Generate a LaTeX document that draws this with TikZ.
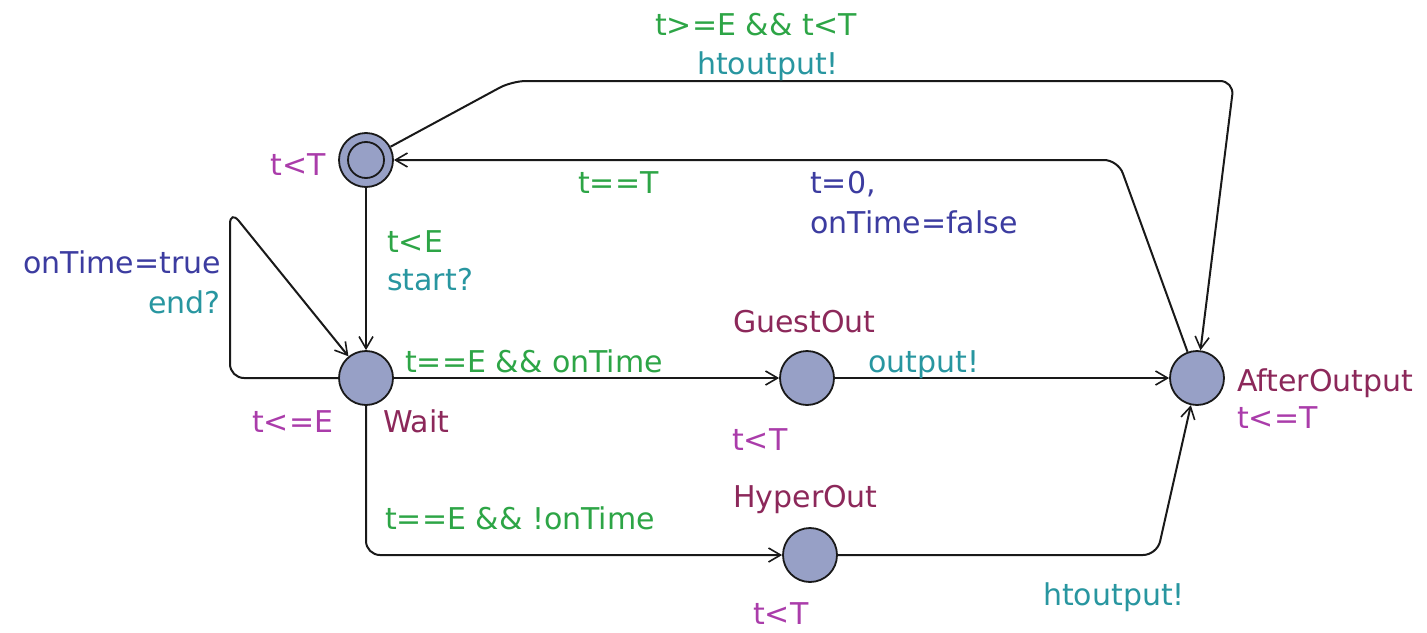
\documentclass[tikz,border=0pt]{standalone}
\usepackage{fontspec}
\setmainfont{DejaVu Sans}
\usetikzlibrary{arrows.meta}
\definecolor{locfill}{RGB}{151,160,198}
\definecolor{namecol}{RGB}{140,40,90}
\definecolor{invcol}{RGB}{170,60,170}
\definecolor{guardcol}{RGB}{45,165,70}
\definecolor{synccol}{RGB}{40,150,160}
\definecolor{assigncol}{RGB}{60,60,160}
\begin{document}
\begin{tikzpicture}[x=1pt,y=-1pt,
  loc/.style={circle,draw=black!90,fill=locfill,line width=1.8pt,minimum size=54pt,inner sep=0pt},
  loccore/.style={circle,draw=black!90,fill=locfill,line width=1.8pt,minimum size=36pt,inner sep=0pt},
  edge/.style={draw=black!90,line width=2pt,rounded corners=14pt,
    -{Straight Barb[length=12pt,width=14pt,line width=1.6pt]}},
  lbl/.style={inner sep=0pt,font=\fontsize{30}{36}\selectfont},
  lblname/.style={lbl,text=namecol},
  lblinv/.style={lbl,text=invcol},
  lblguard/.style={lbl,text=guardcol},
  lblsync/.style={lbl,text=synccol},
  lblassign/.style={lbl,text=assigncol}]
\useasboundingbox (0,0) rectangle (1427,632);

% locations
\node[loc] (init) at (366,160) {};
\node[loccore] (initcore) at (366,160) {};
\node[loc] (wait) at (366,378) {};
\node[loc] (guest) at (807,378) {};
\node[loc] (hyper) at (810,555) {};
\node[loc] (after) at (1197,378) {};

% location names and invariants
\node[lblinv,anchor=base east] (invinit) at (326,175) {t<T};
\node[lblname,anchor=base west] (nwait) at (383,432) {Wait};
\node[lblinv,anchor=base west] (invwait) at (252,432) {t<=E};
\node[lblname,anchor=base west] (nguest) at (733,332) {GuestOut};
\node[lblinv,anchor=base west] (invguest) at (732,450) {t<T};
\node[lblname,anchor=base west] (nhyper) at (733,507) {HyperOut};
\node[lblinv,anchor=base west] (invhyper) at (753,624) {t<T};
\node[lblname,anchor=base west] (nafter) at (1237,391) {AfterOutput};
\node[lblinv,anchor=base west] (invafter) at (1237,428) {t<=T};

% edges
\draw[edge] (init) -- (wait);
\draw[edge] (wait) -- (230,378) -- (230,210) -- (wait);
\draw[edge] (wait) -- (guest);
\draw[edge] (wait) -- (366,555) -- (hyper);
\draw[edge] (guest) -- (after);
\draw[edge] (hyper) -- (1157,555) -- (after);
\draw[edge] (after) -- (1118,160) -- (init);
\draw[edge] (init) -- (512,81) -- (1234,81) -- (after);

% edge labels
\node[lblguard,anchor=base west] (g1) at (387,252) {t<E};
\node[lblsync,anchor=base west] (s1) at (387,290) {start?};
\node[lblassign,anchor=base east] (a2) at (221,273) {onTime=true};
\node[lblsync,anchor=base east] (s2) at (221,313) {end?};
\node[lblguard,anchor=base west] (g3) at (405,372) {t==E \&\& onTime};
\node[lblguard,anchor=base west] (g4) at (385,529) {t==E \&\& !onTime};
\node[lblsync,anchor=base west] (s5) at (868,372) {output!};
\node[lblsync,anchor=base west] (s6) at (1043,605) {htoutput!};
\node[lblguard,anchor=base west] (g7) at (578,193) {t==T};
\node[lblassign,anchor=base west] (a7a) at (810,193) {t=0,};
\node[lblassign,anchor=base west] (a7b) at (810,233) {onTime=false};
\node[lblguard,anchor=base west] (g8) at (655,35) {t>=E \&\& t<T};
\node[lblsync,anchor=base west] (s8) at (697,74) {htoutput!};
\end{tikzpicture}
\end{document}
